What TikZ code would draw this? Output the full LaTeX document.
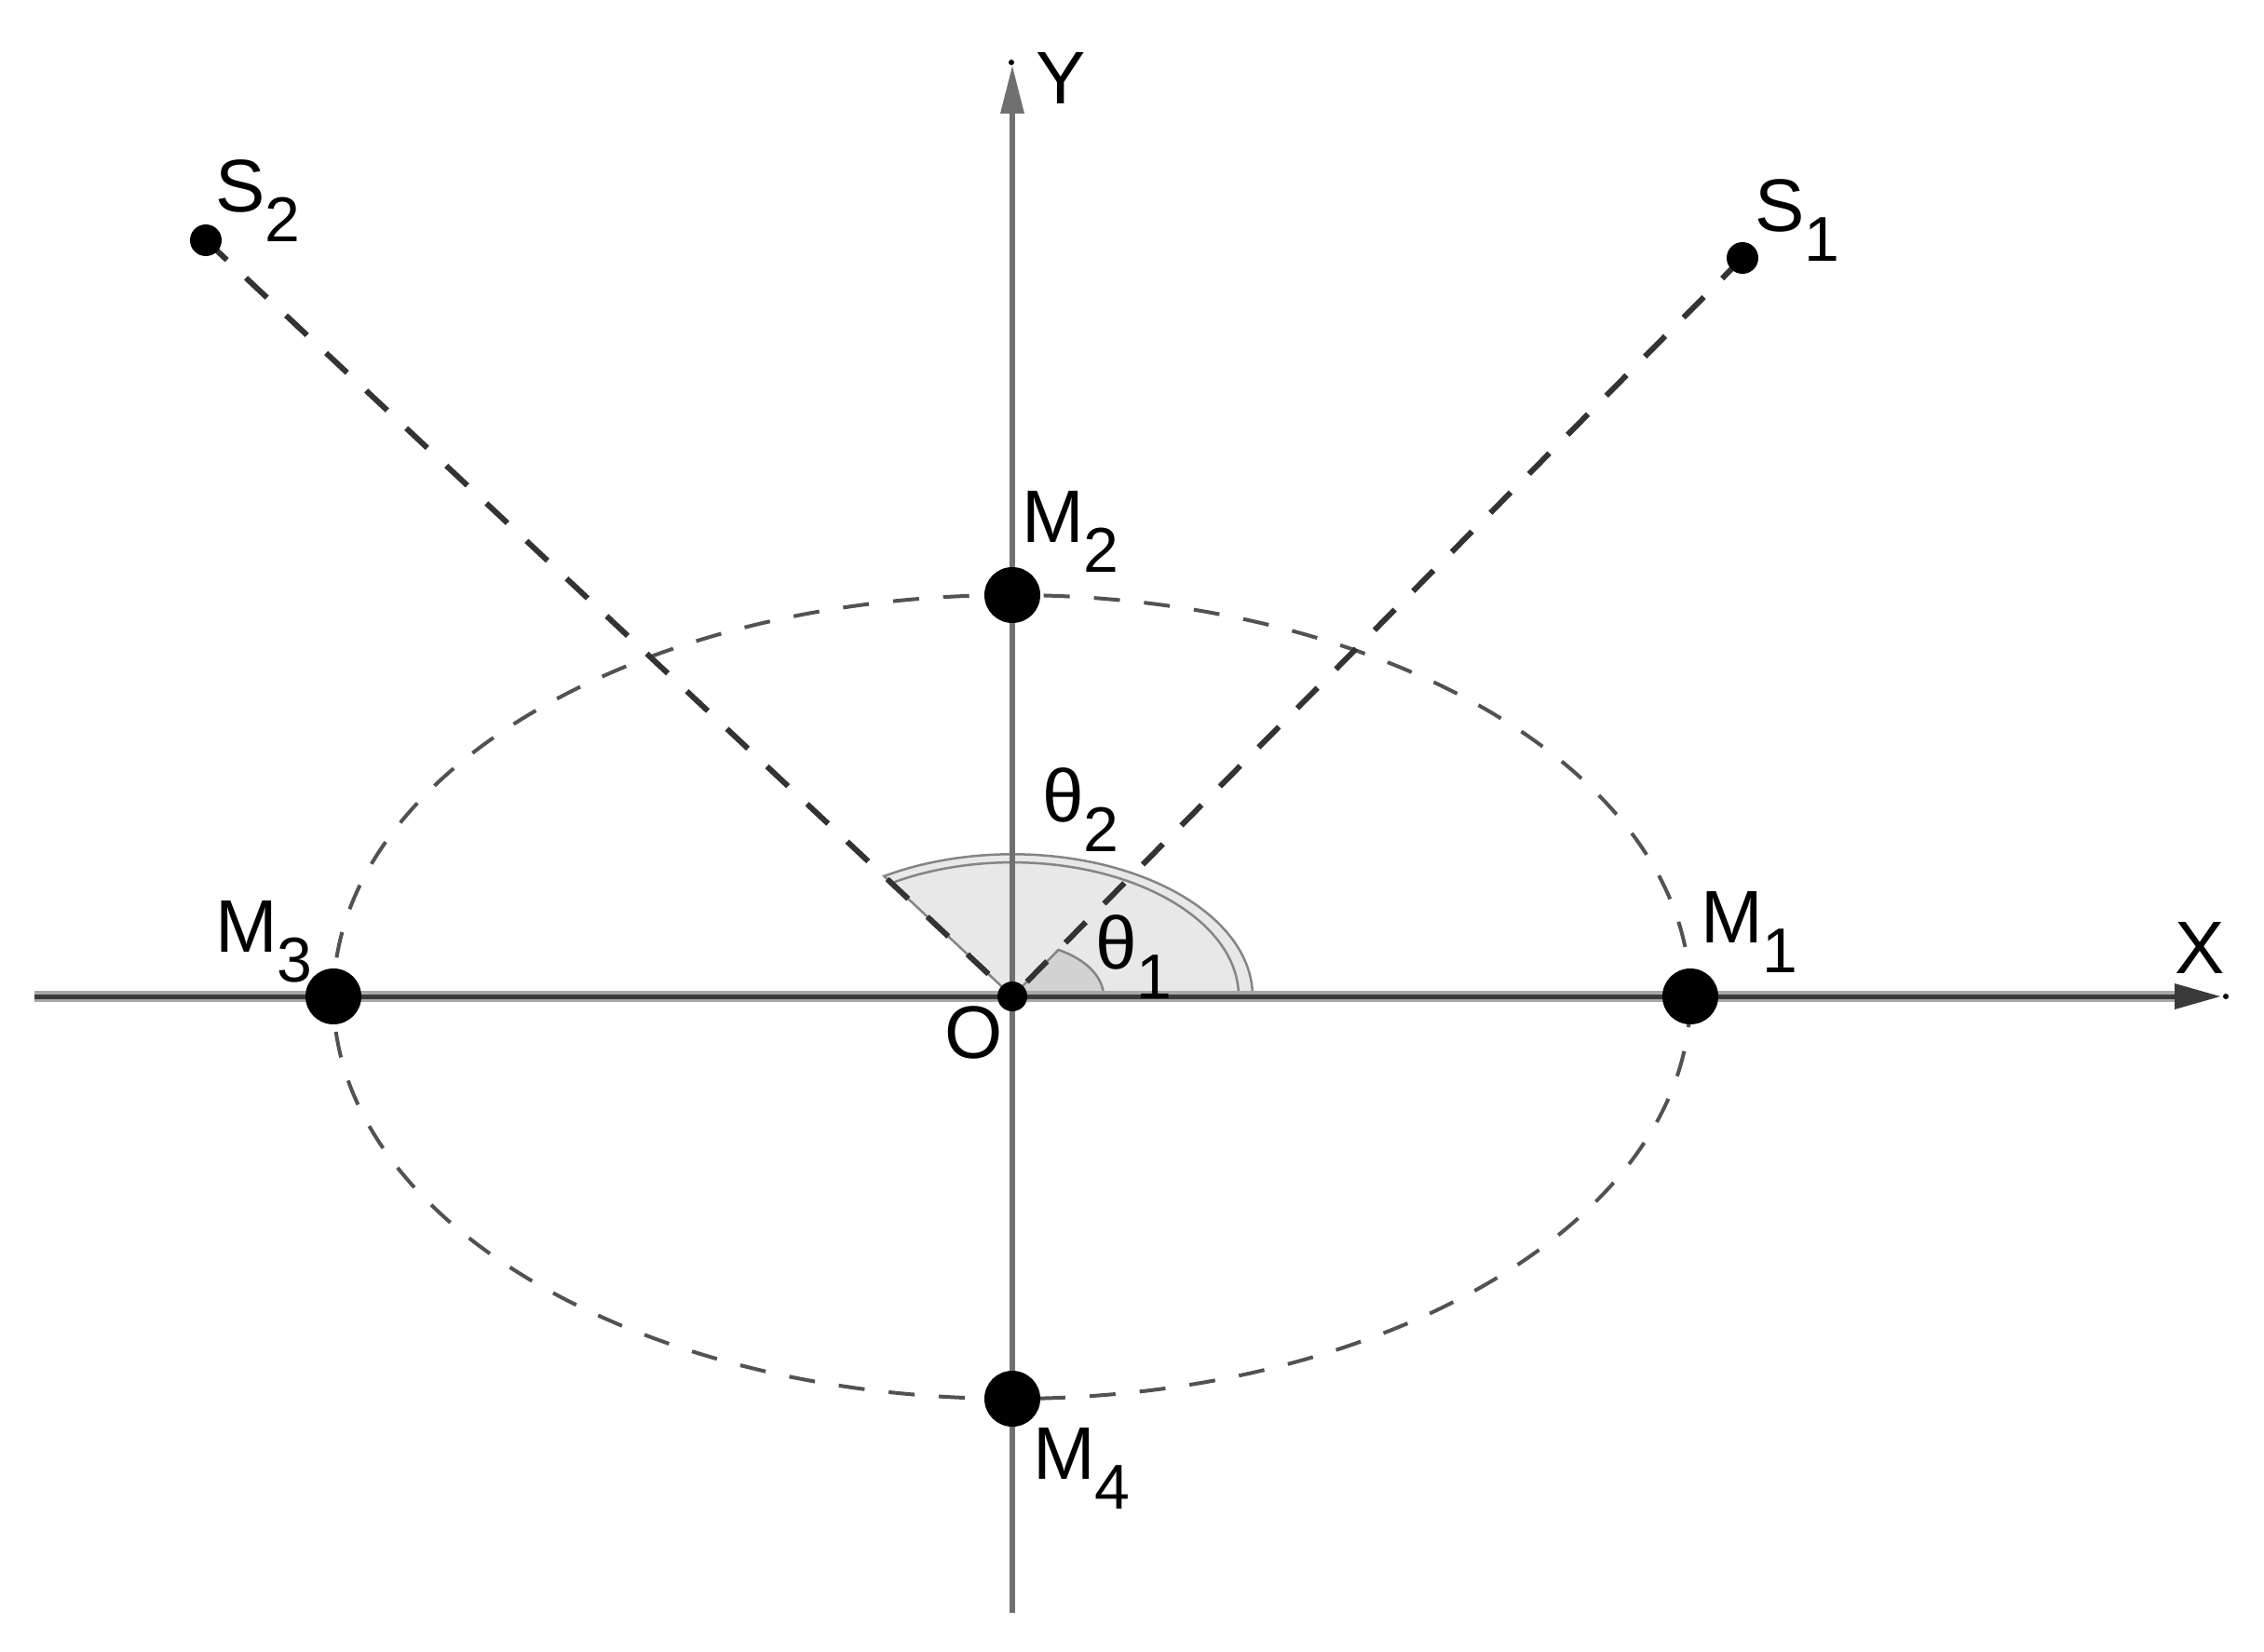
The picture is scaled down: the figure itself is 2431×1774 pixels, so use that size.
\documentclass[tikz,border=0pt]{standalone}
\usepackage{fontspec}
\setmainfont{Liberation Sans}
\usetikzlibrary{arrows.meta}
\definecolor{axisgray}{HTML}{707070}
\definecolor{axishalo}{HTML}{A8A8A8}
\definecolor{axisdark}{HTML}{3A3A3A}
\definecolor{dashdark}{HTML}{333333}
\definecolor{sectorlight}{HTML}{E8E8E8}
\definecolor{sectordark}{HTML}{D2D2D2}
\definecolor{arcgray}{HTML}{858585}
\newcommand\sublab[2]{#1\raisebox{-32pt}{\fontsize{68pt}{68pt}\selectfont #2}}
\begin{document}
\begin{tikzpicture}[x=1pt,y=-1pt,
  lbl/.style={inner sep=0pt, outer sep=0pt, anchor=base west, font=\fontsize{80pt}{96pt}\selectfont},
  sline/.style={draw=dashdark, line width=6pt, dash pattern=on 31pt off 28pt},
  eline/.style={draw=dashdark!85!white, line width=4pt, dash pattern=on 28pt off 26pt},
  bigdot/.style={circle, fill=black, inner sep=0pt, minimum size=60pt},
  smalldot/.style={circle, fill=black, inner sep=0pt, minimum size=34pt},
  tinydot/.style={circle, fill=black, inner sep=0pt, minimum size=6pt},
  arcline/.style={draw=arcgray, line width=2.5pt}]
\useasboundingbox (0,0) rectangle (2431,1774);
\fill[white] (0,0) rectangle (2431,1774);

\coordinate (O) at (1087,1070);
\coordinate (S1) at (1871,277);
\coordinate (S2) at (221,258);
\coordinate (M1) at (1815,1070);
\coordinate (M2) at (1087,639);
\coordinate (M3) at (358,1070);
\coordinate (M4) at (1087,1502);

% sectors
\fill[sectorlight] (O) -- ++(258pt,0pt) arc[start angle=0, end angle=122.26, x radius=258pt, y radius=152.7pt] -- cycle;
\draw[arcline] (O) ++(258pt,0pt) arc[start angle=0, end angle=122.26, x radius=258pt, y radius=152.7pt] coordinate (A2) -- (O);
\draw[arcline] (O) ++(243pt,0pt) arc[start angle=0, end angle=122.26, x radius=243pt, y radius=143.9pt];
\fill[sectordark] (O) -- ++(98pt,0pt) arc[start angle=0, end angle=59.66, x radius=98pt, y radius=58pt] -- cycle;
\draw[arcline] (O) ++(98pt,0pt) arc[start angle=0, end angle=59.66, x radius=98pt, y radius=58pt] coordinate (A1) -- (O);

% ellipse
\draw[eline] (1086.5,1070.5) ellipse [x radius=728.5pt, y radius=431.5pt];

% axes
\coordinate (XL) at (37,1070);
\coordinate (XB) at (2337,1070);
\coordinate (XT) at (2384,1070);
\coordinate (YB) at (1087,1732);
\coordinate (YH) at (1087,120);
\coordinate (YT) at (1087,71);
\draw[axishalo, line width=12pt] (XL) -- (XB);
\draw[axisdark, line width=5pt] (XL) -- (XB);
\fill[axisdark] (2335,1056) -- (XT) -- (2335,1084) -- cycle;
\draw[axisgray, line width=6pt] (YB) -- (YH);
\fill[axisgray] (1074,122) -- (YT) -- (1100,122) -- cycle;
\node[tinydot] (XD) at (2390,1070) {};
\node[tinydot] (YD) at (1086,67) {};

% source lines
\draw[sline] (S1) -- (O);
\draw[sline] (S2) -- (O);

% points
\node[smalldot] (dS1) at (S1) {};
\node[smalldot] (dS2) at (S2) {};
\node[bigdot] (dM1) at (M1) {};
\node[bigdot] (dM2) at (M2) {};
\node[bigdot] (dM3) at (M3) {};
\node[bigdot] (dM4) at (M4) {};
\node[circle, fill=black, inner sep=0pt, minimum size=32pt] (dO) at (O) {};

% labels
\node[lbl] (lY) at (1112,112) {Y};
\node[lbl] (lX) at (2335,1045) {X};
\node[lbl] (lO) at (1014,1136) {O};
\node[lbl] (lS1) at (1884,248) {\sublab{S}{1}};
\node[lbl] (lS2) at (231,227) {\sublab{S}{2}};
\node[lbl] (lM1) at (1826,1012) {\sublab{M}{1}};
\node[lbl] (lM2) at (1097,582) {\sublab{M}{2}};
\node[lbl] (lM3) at (231,1022) {\sublab{M}{3}};
\node[lbl] (lM4) at (1109,1588) {\sublab{M}{4}};
\node[lbl] (lt2) at (1119,882) {\sublab{θ}{2}};
\node[lbl] (lt1) at (1176,1040) {\sublab{θ}{1}};
\end{tikzpicture}
\end{document}
